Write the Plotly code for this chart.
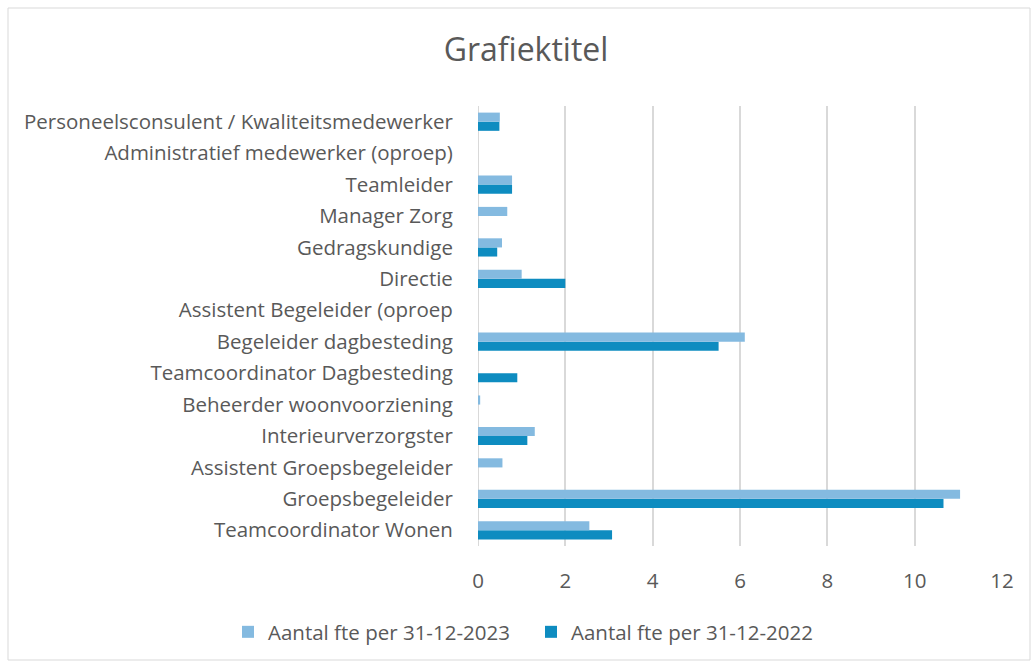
import plotly.graph_objects as go

categories = [
    "Teamcoordinator Wonen",
    "Groepsbegeleider",
    "Assistent Groepsbegeleider",
    "Interieurverzorgster",
    "Beheerder woonvoorziening",
    "Teamcoordinator Dagbesteding",
    "Begeleider dagbesteding",
    "Assistent Begeleider (oproep",
    "Directie",
    "Gedragskundige",
    "Manager Zorg",
    "Teamleider",
    "Administratief medewerker (oproep)",
    "Personeelsconsulent / Kwaliteitsmedewerker",
]
fte_2023 = [2.55, 11.04, 0.56, 1.30, 0.05, 0, 6.11, 0, 1.0, 0.55, 0.67, 0.78, 0, 0.5]
fte_2022 = [3.07, 10.66, 0, 1.13, 0, 0.90, 5.51, 0, 2.0, 0.44, 0, 0.78, 0, 0.49]
x_ticks = [0, 2, 4, 6, 8, 10, 12]

FONT = "Open Sans"
GREY = "#595959"
FS = 20.5

fig = go.Figure()
fig.add_trace(go.Bar(y=categories, x=fte_2022, orientation="h",
                     name="Aantal fte per 31-12-2022",
                     marker=dict(color="#0E8CC0", line=dict(width=0))))
fig.add_trace(go.Bar(y=categories, x=fte_2023, orientation="h",
                     name="Aantal fte per 31-12-2023",
                     marker=dict(color="#84BAE0", line=dict(width=0))))

L, R, T, B = 478, 31, 106, 120
W, H = 1033, 666
pw, ph = W - L - R, H - T - B

fig.update_layout(
    width=W, height=H,
    margin=dict(l=L, r=R, t=T, b=B, autoexpand=False),
    paper_bgcolor="white", plot_bgcolor="white",
    barmode="group", bargap=0.42, bargroupgap=0,
    font=dict(family=FONT, color=GREY, size=FS),
    title=dict(text="Grafiektitel", x=526 / W, xanchor="center",
               y=1 - 50 / H, yanchor="middle", yref="container",
               font=dict(size=32, color=GREY, family=FONT)),
    legend=dict(orientation="h",
                x=(228 - L) / pw, xanchor="left",
                y=(H - B - 632) / ph, yanchor="middle",
                traceorder="reversed", font=dict(size=FS, color=GREY),
                itemwidth=30, entrywidth=258, entrywidthmode="pixels"),
    xaxis=dict(range=[0, 12], tickvals=x_ticks, showgrid=True,
               gridcolor="#D9D9D9", gridwidth=2, zeroline=False,
               ticks="outside", ticklen=16, tickcolor="rgba(0,0,0,0)",
               tickfont=dict(size=FS, color=GREY), showline=False),
    yaxis=dict(categoryorder="array", categoryarray=categories,
               ticks="outside", ticklen=20, tickcolor="rgba(0,0,0,0)",
               tickfont=dict(size=FS, color=GREY), showgrid=False,
               showline=False),
    shapes=[dict(type="rect", xref="paper", yref="paper",
                 x0=(8 - L) / pw, x1=(1030 - L) / pw,
                 y0=(H - B - 660) / ph, y1=(H - B - 8) / ph,
                 line=dict(color="#D9D9D9", width=1), fillcolor="rgba(0,0,0,0)",
                 layer="below")],
)
fig.add_vline(x=0, line=dict(color="#D9D9D9", width=2), layer="below")

fig.write_html("out.html", config={"displayModeBar": False},
               post_script="document.body.style.margin='0';document.body.style.overflow='hidden';")
